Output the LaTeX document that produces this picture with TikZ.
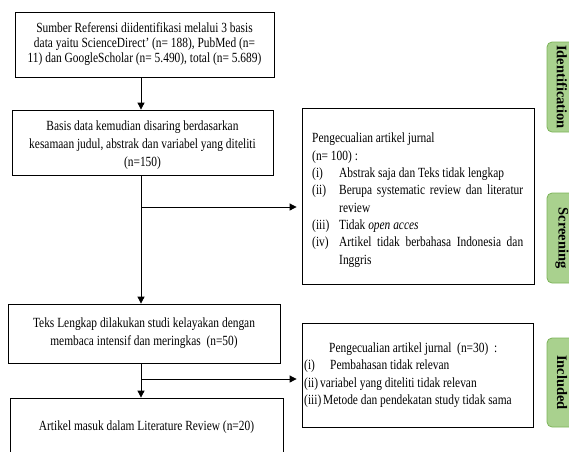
\documentclass[tikz,border=0pt]{standalone}
\usepackage{fontspec}
\setmainfont{Liberation Serif}[FakeStretch=0.815]
\newfontfamily\tabfont{Liberation Serif}
\usetikzlibrary{arrows.meta}
\definecolor{tabfill}{HTML}{A9D18E}
\definecolor{tabdraw}{HTML}{7DB45A}
\newcommand{\xitem}[2]{\par\noindent\hangindent=27pt\hangafter=1\makebox[27pt][l]{#1}#2}
\begin{document}
\begin{tikzpicture}[x=1pt,y=-1pt,
  box/.style={draw, line width=0.8pt, inner sep=0pt, align=center},
  arr/.style={-{Triangle[length=7pt,width=7pt]}, line width=0.8pt},
  tab/.style={draw=tabdraw, fill=tabfill, rounded corners=5pt, line width=0.8pt,
     rotate=-90, inner sep=0pt, minimum height=30pt,
     font=\tabfont\fontsize{14.5}{16}\selectfont\bfseries}]
\useasboundingbox (0,0) rectangle (569,451);
\clip (0,0) rectangle (569,451);
\coordinate (spine) at (141,0);

\node[box, minimum width=259pt, minimum height=65pt, font=\fontsize{14}{15}\selectfont] (b1) at (144.5,44.5)
  {Sumber Referensi diidentifikasi melalui 3 basis\\ data yaitu ScienceDirect' (n= 188), PubMed (n=\\ 11) dan GoogleScholar (n= 5.490), total (n= 5.689)};
\node[box, minimum width=261pt, minimum height=65pt, font=\fontsize{14}{18}\selectfont] (b2) at (142.5,142.5)
  {\parbox{255pt}{\centering\vspace*{6pt}Basis data kemudian disaring berdasarkan\\ kesamaan judul, abstrak dan variabel yang diteliti\\ (n=150)}};
\node[box, minimum width=272pt, minimum height=59pt, font=\fontsize{14}{18}\selectfont] (b3) at (144,333.5)
  {Teks Lengkap dilakukan studi kelayakan dengan\\ membaca intensif dan meringkas~ (n=50)};
\node[box, minimum width=273pt, minimum height=54pt, font=\fontsize{14}{18}\selectfont] (b4) at (146.5,425)
  {\parbox{265pt}{\centering\vspace*{4pt}Artikel masuk dalam Literature Review (n=20)}};

\node[draw, line width=0.8pt, minimum width=232pt, minimum height=176pt, inner sep=0pt] (r1) at (418,196) {};
\node[anchor=north west, inner sep=0pt, text width=211pt, align=justify,
      font=\fontsize{14}{17.3}\selectfont] (r1t) at (312,133)
  {\hyphenpenalty=10000 \exhyphenpenalty=10000
   \noindent Pengecualian artikel jurnal\par
   \noindent (n= 100) :
   \xitem{(i)}{Abstrak saja dan Teks tidak lengkap}
   \xitem{(ii)}{Berupa systematic review dan literatur\linebreak review}
   \xitem{(iii)}{Tidak \textit{open acces}}
   \xitem{(iv)}{Artikel tidak berbahasa Indonesia dan\linebreak Inggris}\par};

\node[draw, line width=0.8pt, minimum width=231pt, minimum height=104pt, inner sep=0pt] (r2) at (417.5,375) {};
\node[anchor=north west, inner sep=0pt, align=left,
      font=\fontsize{14}{17.3}\selectfont] (r2t) at (304,342.5)
  {\hspace*{25pt}Pengecualian artikel jurnal~ (n=30)~ :\\
   \makebox[26pt][l]{(i)}Pembahasan tidak relevan\\
   \makebox[16pt][l]{(ii)}variabel yang diteliti tidak relevan\\
   \makebox[19pt][l]{(iii)}Metode dan pendekatan study tidak sama};

\draw[arr] (b1.south -| spine) -- (b2.north -| spine);
\draw[arr] (b2.south -| spine) -- (b3.north -| spine);
\draw[arr] (b3.south -| spine) -- (b4.north -| spine);
\coordinate (j1) at (141,207);
\coordinate (j2) at (141,379);
\draw[arr, shorten >=5pt] (j1) -- (j1 -| r1.west);
\draw[arr, shorten >=5pt] (j2) -- (j2 -| r2.west);

\node[tab, minimum width=90pt] (t1) at (562,87) {Identification};
\node[tab, minimum width=90pt] (t2) at (562,238) {Screening};
\node[tab, minimum width=89pt] (t3) at (562,382.5) {Included};
\end{tikzpicture}
\end{document}
